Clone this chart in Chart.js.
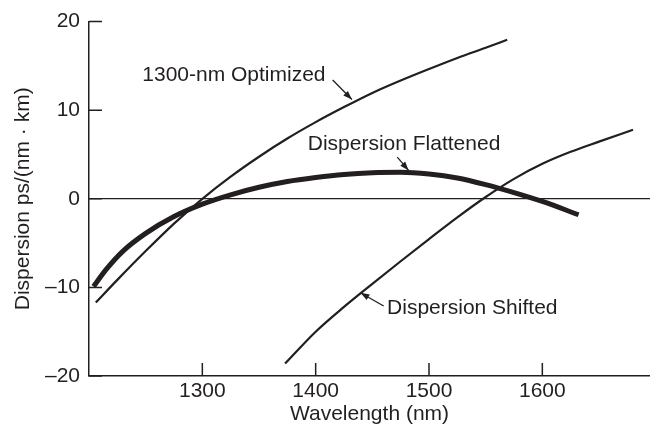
<!DOCTYPE html>
<html>
<head>
<meta charset="utf-8">
<script src="https://cdn.jsdelivr.net/npm/chart.js@4.4.1/dist/chart.umd.min.js"></script>
<style>
  html, body { margin: 0; padding: 0; background: #fff; }
  #wrap { width: 650px; height: 427px; position: relative; }
</style>
</head>
<body>
<div id="wrap"><canvas id="dispChart"></canvas></div>
<script>
// Data (wavelength in nm, dispersion in ps/(nm km))
const optimizedWl = [1206, 1225, 1250, 1275, 1300, 1325, 1350, 1375, 1400, 1425, 1450, 1475, 1500, 1525, 1550, 1569];
const optimizedD  = [-11.7, -9.15, -5.9, -2.8, 0.0, 2.5, 4.75, 6.8, 8.65, 10.35, 11.95, 13.35, 14.65, 15.9, 17.05, 17.95];

const flattenedWl = [1204, 1215, 1230, 1250, 1275, 1300, 1325, 1350, 1375, 1400, 1425, 1450, 1475, 1500, 1525, 1550, 1575, 1600, 1632];
const flattenedD  = [-9.9, -8.0, -5.9, -3.9, -2.0, -0.6, 0.45, 1.3, 1.95, 2.4, 2.75, 2.95, 3.0, 2.8, 2.35, 1.6, 0.7, -0.3, -1.8];

const shiftedWl = [1373, 1400, 1425, 1450, 1475, 1500, 1525, 1550, 1575, 1600, 1625, 1650, 1680];
const shiftedD  = [-18.6, -15.0, -12.2, -9.6, -7.05, -4.55, -2.1, 0.2, 2.25, 3.95, 5.3, 6.45, 7.8];

const xTicks = [1300, 1400, 1500, 1600];
const yTicks = [-20, -10, 0, 10, 20];

const curveLabels = ['1300-nm Optimized', 'Dispersion Flattened', 'Dispersion Shifted'];

// label anchors and arrows, in data units
const notes = [
    { text: curveLabels[0], at: [1247, 14.0], from: [1415, 13.4], to: [1432, 11.2] },
    { text: curveLabels[1], at: [1393, 6.2], from: [1472, 4.7], to: [1482, 3.2] },
    { text: curveLabels[2], at: [1463, -12.3], from: [1460, -12.1], to: [1439.5, -10.6] }
];

const ink = '#231f20';
const fontFam = '"Liberation Sans", Arial, Helvetica, sans-serif';

function toPoints(xs, ys) {
    return xs.map((x, i) => ({ x: x, y: ys[i] }));
}

// inward tick marks + curve labels with arrows
const figureExtras = {
    id: 'figureExtras',
    afterDatasetsDraw(chart) {
        const ctx = chart.ctx;
        const xs = chart.scales.x;
        const ys = chart.scales.y;
        const area = chart.chartArea;

        ctx.save();
        ctx.strokeStyle = ink;
        ctx.lineWidth = 1.5;
        ctx.beginPath();
        yTicks.forEach(v => {
            const py = ys.getPixelForValue(v);
            ctx.moveTo(area.left, py);
            ctx.lineTo(area.left + 13, py);
        });
        xTicks.forEach(v => {
            const px = xs.getPixelForValue(v);
            ctx.moveTo(px, area.bottom);
            ctx.lineTo(px, area.bottom - 13);
        });
        ctx.stroke();

        ctx.font = '21px ' + fontFam;
        ctx.fillStyle = ink;
        ctx.textAlign = 'left';
        ctx.textBaseline = 'middle';
        notes.forEach(n => {
            ctx.fillText(n.text, xs.getPixelForValue(n.at[0]), ys.getPixelForValue(n.at[1]));

            const x1 = xs.getPixelForValue(n.from[0]), y1 = ys.getPixelForValue(n.from[1]);
            const x2 = xs.getPixelForValue(n.to[0]), y2 = ys.getPixelForValue(n.to[1]);
            ctx.lineWidth = 1.3;
            ctx.beginPath();
            ctx.moveTo(x1, y1);
            ctx.lineTo(x2, y2);
            ctx.stroke();
            // arrow head
            const ang = Math.atan2(y2 - y1, x2 - x1);
            const len = 9, half = 3.2;
            ctx.beginPath();
            ctx.moveTo(x2, y2);
            ctx.lineTo(x2 - len * Math.cos(ang) + half * Math.sin(ang), y2 - len * Math.sin(ang) - half * Math.cos(ang));
            ctx.lineTo(x2 - len * Math.cos(ang) - half * Math.sin(ang), y2 - len * Math.sin(ang) + half * Math.cos(ang));
            ctx.closePath();
            ctx.fill();
        });
        ctx.restore();
    }
};

const lineStyle = {
    borderColor: ink,
    backgroundColor: ink,
    pointRadius: 0,
    fill: false,
    cubicInterpolationMode: 'monotone'
};

new Chart(document.getElementById('dispChart'), {
    type: 'line',
    data: {
        datasets: [
            Object.assign({ label: curveLabels[0], data: toPoints(optimizedWl, optimizedD), borderWidth: 2.2 }, lineStyle),
            Object.assign({ label: curveLabels[1], data: toPoints(flattenedWl, flattenedD), borderWidth: 5 }, lineStyle),
            Object.assign({ label: curveLabels[2], data: toPoints(shiftedWl, shiftedD), borderWidth: 2.2 }, lineStyle)
        ]
    },
    options: {
        responsive: true,
        maintainAspectRatio: false,
        animation: false,
        layout: { padding: { top: 19, right: 0, left: 0, bottom: 0 } },
        plugins: {
            legend: { display: false },
            tooltip: { enabled: false }
        },
        scales: {
            x: {
                type: 'linear',
                min: 1200,
                max: 1695,
                afterBuildTicks: scale => { scale.ticks = xTicks.map(v => ({ value: v })); },
                afterFit: scale => { scale.height = 51; },
                border: { display: true, color: ink, width: 1.5 },
                grid: { display: false, drawTicks: false },
                ticks: {
                    color: ink,
                    padding: 3,
                    maxRotation: 0,
                    font: { size: 21, family: fontFam },
                    callback: v => String(v)
                },
                title: {
                    display: true,
                    text: 'Wavelength (nm)',
                    color: ink,
                    padding: { top: 0, bottom: 0 },
                    font: { size: 21, family: fontFam }
                }
            },
            y: {
                min: -20,
                max: 20,
                afterBuildTicks: scale => { scale.ticks = yTicks.map(v => ({ value: v })); },
                afterFit: scale => { scale.width = 89; },
                border: { display: true, color: ink, width: 1.5 },
                grid: {
                    drawTicks: false,
                    lineWidth: 1.2,
                    color: c => (c.tick && c.tick.value === 0 ? ink : 'rgba(0,0,0,0)')
                },
                ticks: {
                    color: ink,
                    padding: 9,
                    font: { size: 21, family: fontFam },
                    callback: v => (v < 0 ? '\u2013' + Math.abs(v) : String(v))
                },
                title: {
                    display: true,
                    text: 'Dispersion ps/(nm \u00b7 km)',
                    color: ink,
                    padding: { top: 11, bottom: 0 },
                    font: { size: 21, family: fontFam }
                }
            }
        }
    },
    plugins: [figureExtras]
});
</script>
</body>
</html>
